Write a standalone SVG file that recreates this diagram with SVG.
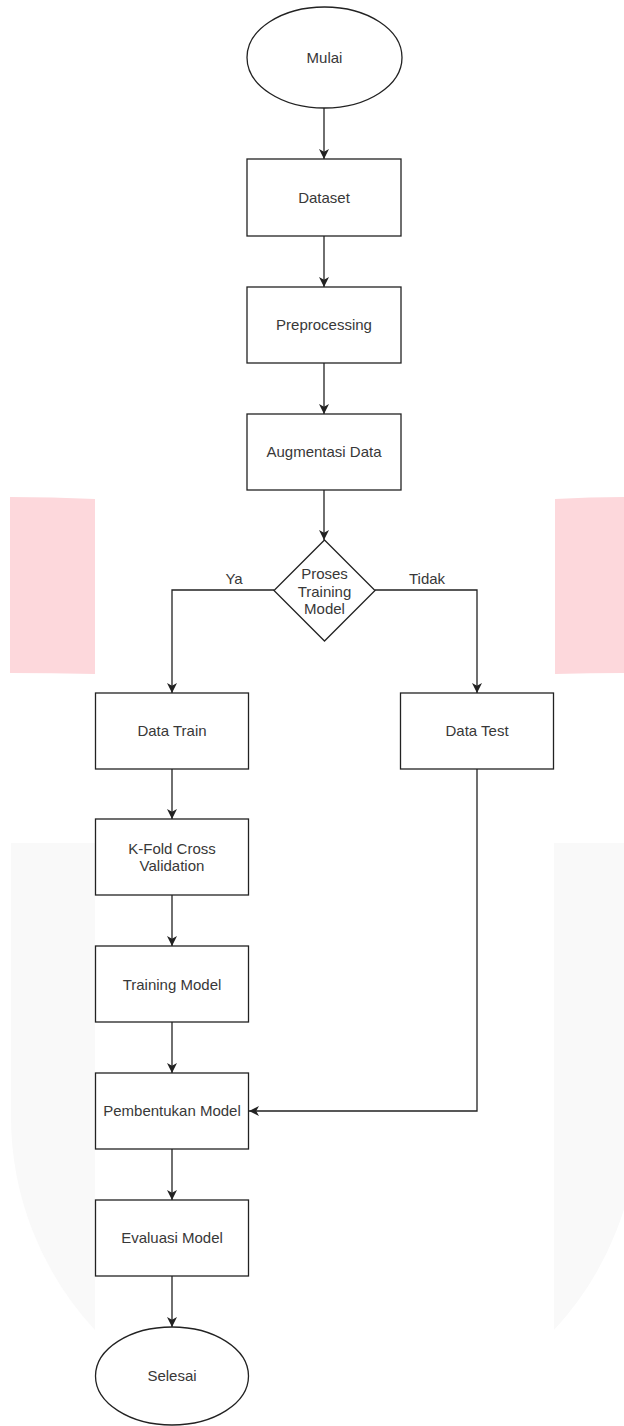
<svg xmlns="http://www.w3.org/2000/svg" width="624" height="1426" viewBox="0 0 624 1426">
<style>
.shape{fill:#ffffff;stroke:#222222;stroke-width:1.3}
.lbl{font-family:"Liberation Sans",Arial,sans-serif;font-size:15px;fill:#383838;text-anchor:middle}
.edge{fill:none;stroke:#222222;stroke-width:1.3}
</style>
<defs>
<marker id="arr" markerUnits="userSpaceOnUse" markerWidth="12" markerHeight="12" refX="10" refY="5" orient="auto">
<path d="M0,0 L10,5 L0,10 L2.8,5 Z" fill="#222222"/>
</marker>
</defs>
<rect width="624" height="1426" fill="#ffffff"/>
<g id="watermark">
<path d="M10,497 Q52,497 95,499 V674 Q52,673 10,673 Z" fill="#fdd8dc"/>
<path d="M555,499 Q590,497 624,497 V673 Q590,673 555,674 Z" fill="#fdd8dc"/>
<path d="M11,843 H95 V1330 A313.5,313.5 0 0 1 11,1116 Z" fill="#f9f9f9"/>
<path d="M554,843 H638 V1116 A313.5,313.5 0 0 1 554,1330 Z" fill="#f9f9f9"/>
</g>
<g id="connectors">
<line class="edge" x1="324" y1="108" x2="324" y2="159" marker-end="url(#arr)"/>
<line class="edge" x1="324" y1="236" x2="324" y2="287" marker-end="url(#arr)"/>
<line class="edge" x1="324" y1="363" x2="324" y2="414" marker-end="url(#arr)"/>
<line class="edge" x1="324" y1="490" x2="324" y2="540" marker-end="url(#arr)"/>
<path class="edge" d="M274,590 H172 V693" marker-end="url(#arr)"/>
<path class="edge" d="M375,590 H477 V693" marker-end="url(#arr)"/>
<line class="edge" x1="172" y1="769" x2="172" y2="819" marker-end="url(#arr)"/>
<line class="edge" x1="172" y1="895" x2="172" y2="946" marker-end="url(#arr)"/>
<line class="edge" x1="172" y1="1022" x2="172" y2="1073" marker-end="url(#arr)"/>
<path class="edge" d="M477,769 V1111 H249" marker-end="url(#arr)"/>
<line class="edge" x1="172" y1="1149" x2="172" y2="1200" marker-end="url(#arr)"/>
<line class="edge" x1="172" y1="1276" x2="172" y2="1327" marker-end="url(#arr)"/>
<text class="lbl" x="234" y="584">Ya</text>
<text class="lbl" x="427" y="584">Tidak</text>
</g>
<g id="mulai"><ellipse class="shape" cx="324.5" cy="57.5" rx="77.5" ry="50.5"/><text class="lbl" x="324.5" y="63">Mulai</text></g>
<g id="dataset"><rect class="shape" x="247" y="159" width="154" height="77"/><text class="lbl" x="324" y="203">Dataset</text></g>
<g id="preprocessing"><rect class="shape" x="247" y="287" width="154" height="76"/><text class="lbl" x="324" y="330">Preprocessing</text></g>
<g id="augmentasi"><rect class="shape" x="247" y="414" width="154" height="76"/><text class="lbl" x="324" y="457">Augmentasi Data</text></g>
<g id="proses"><path class="shape" d="M324.5,540 L375,590.5 L324.5,641 L274,590.5 Z"/><text class="lbl" x="324.5" y="579">Proses</text><text class="lbl" x="324.5" y="597">Training</text><text class="lbl" x="324.5" y="614">Model</text></g>
<g id="datatrain"><rect class="shape" x="95.5" y="693" width="153" height="76"/><text class="lbl" x="172" y="736">Data Train</text></g>
<g id="datatest"><rect class="shape" x="400.5" y="693" width="153" height="76"/><text class="lbl" x="477" y="736">Data Test</text></g>
<g id="kfold"><rect class="shape" x="95.5" y="819" width="153" height="76"/><text class="lbl" x="172" y="854">K-Fold Cross</text><text class="lbl" x="172" y="871">Validation</text></g>
<g id="training"><rect class="shape" x="95.5" y="946" width="153" height="76"/><text class="lbl" x="172" y="990">Training Model</text></g>
<g id="pembentukan"><rect class="shape" x="95.5" y="1073" width="153" height="76"/><text class="lbl" x="172" y="1116">Pembentukan Model</text></g>
<g id="evaluasi"><rect class="shape" x="95.5" y="1200" width="153" height="76"/><text class="lbl" x="172" y="1243">Evaluasi Model</text></g>
<g id="selesai"><ellipse class="shape" cx="172" cy="1376" rx="76.5" ry="49"/><text class="lbl" x="172" y="1381">Selesai</text></g>
</svg>
